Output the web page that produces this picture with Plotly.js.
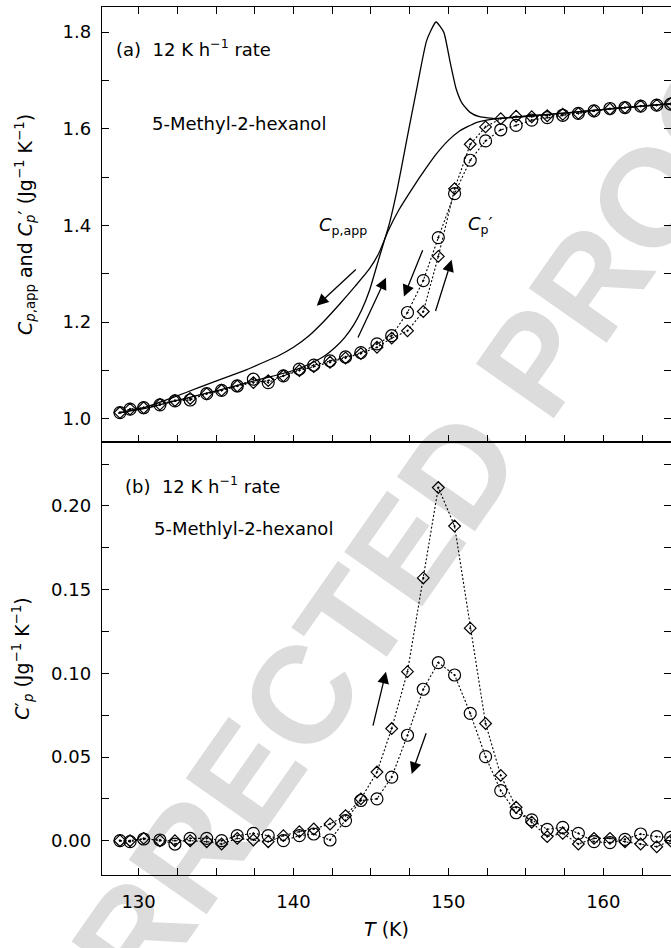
<!DOCTYPE html>
<html>
<head>
<meta charset="utf-8">
<script src="https://cdn.plot.ly/plotly-3.0.1.min.js"></script>
<style>html,body{margin:0;padding:0;background:#fff;}#chart{width:671px;height:948px;}</style>
</head>
<body>
<div id="chart"></div>
<script>
// Temperatures of the modulated (Cp') measurements, K
const T_pts = [128.8, 129.45, 130.33, 131.38, 132.35, 133.33, 134.4, 135.36, 136.37, 137.41, 138.37, 139.35, 140.38, 141.31, 142.36, 143.36, 144.35, 145.39, 146.34, 147.36, 148.38, 149.35, 150.4, 151.41, 152.4, 153.38, 154.37, 155.38, 156.38, 157.38, 158.39, 159.4, 160.43, 161.4, 162.41, 163.45, 164.35];

// (a) Cp' cooling (circles) and heating (diamonds), J g^-1 K^-1
const cpCool = [1.013, 1.020, 1.023, 1.029, 1.037, 1.039, 1.052, 1.059, 1.068, 1.082, 1.075, 1.089, 1.103, 1.111, 1.120, 1.128, 1.137, 1.155, 1.172, 1.220, 1.286, 1.375, 1.466, 1.535, 1.575, 1.598, 1.607, 1.618, 1.623, 1.628, 1.632, 1.637, 1.642, 1.644, 1.647, 1.649, 1.651];
const cpHeat = [1.013, 1.020, 1.023, 1.030, 1.038, 1.042, 1.052, 1.059, 1.068, 1.075, 1.079, 1.089, 1.100, 1.108, 1.117, 1.126, 1.135, 1.148, 1.167, 1.182, 1.222, 1.336, 1.476, 1.568, 1.604, 1.621, 1.626, 1.625, 1.627, 1.630, 1.632, 1.637, 1.641, 1.644, 1.647, 1.649, 1.652];

// (a) apparent heat capacity Cp,app, cooling scan
const T_appCool = [128.7, 130.5, 132.2, 134.0, 136.0, 137.0, 138.0, 139.0, 140.0, 141.0, 142.0, 143.0, 144.0, 144.9, 145.5, 146.1, 146.8, 147.7, 148.5, 149.2, 150.0, 150.7, 151.8, 153.1, 155.0, 158.0, 161.0, 164.4];
const appCool = [1.012, 1.025, 1.044, 1.066, 1.090, 1.102, 1.116, 1.130, 1.148, 1.172, 1.203, 1.238, 1.275, 1.310, 1.342, 1.388, 1.432, 1.478, 1.516, 1.547, 1.576, 1.595, 1.613, 1.621, 1.626, 1.634, 1.643, 1.652];

// (a) apparent heat capacity Cp,app, heating scan (with overshoot peak)
const T_appHeat = [128.7, 130.5, 132.2, 134.0, 136.0, 138.0, 140.0, 141.0, 142.0, 142.7, 143.3, 143.9, 144.4, 144.9, 145.5, 146.2, 146.7, 147.3, 148.0, 148.6, 149.2, 149.7, 150.1, 150.5, 150.9, 151.4, 152.0, 153.1, 155.0, 158.0, 161.0, 164.4];
const appHeat = [1.012, 1.022, 1.036, 1.050, 1.066, 1.083, 1.100, 1.113, 1.130, 1.148, 1.168, 1.195, 1.225, 1.265, 1.330, 1.405, 1.475, 1.575, 1.690, 1.783, 1.821, 1.800, 1.740, 1.683, 1.652, 1.634, 1.625, 1.621, 1.626, 1.634, 1.643, 1.652];

// (b) Cp'' cooling (circles) and heating (diamonds)
const cppCool = [0.000, -0.0006, 0.001, 0.0004, -0.002, 0.0014, 0.0014, 0.000, 0.003, 0.0044, 0.003, 0.000, 0.003, 0.004, 0.0004, 0.012, 0.024, 0.025, 0.038, 0.063, 0.0905, 0.1064, 0.099, 0.0761, 0.0502, 0.0299, 0.0167, 0.0124, 0.0068, 0.008, 0.0044, -0.0006, -0.0012, 0.0008, 0.004, 0.0024, 0.002];
const cppHeat = [0.000, 0.000, 0.0014, 0.000, 0.000, 0.000, -0.0006, -0.002, 0.0014, 0.0004, -0.0006, 0.003, 0.0054, 0.007, 0.010, 0.015, 0.025, 0.041, 0.067, 0.101, 0.157, 0.211, 0.188, 0.127, 0.070, 0.039, 0.020, 0.011, 0.0024, 0.0044, -0.002, 0.0014, 0.0014, -0.0006, -0.002, -0.0036, 0.000];

// Arrows: [tailT, tailV, headT, headV]
const arrowsA = [[144.12, 1.312, 141.50, 1.234], [144.12, 1.165, 145.97, 1.292], [148.38, 1.352, 147.13, 1.253], [149.14, 1.220, 150.21, 1.329]];
const arrowsB = [[145.11, 0.0678, 145.97, 0.1010], [148.6, 0.0651, 147.63, 0.0399]];

const FONT = 'DejaVu Sans, Liberation Sans, Arial, sans-serif';
const dotLine = {color: '#000', width: 1.1, dash: '2px,2px'};
const circ = {symbol: 'circle-open-dot', size: 12, color: '#000', line: {width: 1.2, color: '#000'}};
const diam = {symbol: 'diamond-open-dot', size: 9, color: '#000', line: {width: 1.2, color: '#000'}};
const solid = {color: '#000', width: 1.3, shape: 'spline', smoothing: 0.5};

const traces = [
  {x: T_appCool, y: appCool, xaxis: 'x2', yaxis: 'y2', mode: 'lines', line: solid, name: 'Cp,app cooling'},
  {x: T_appHeat, y: appHeat, xaxis: 'x2', yaxis: 'y2', mode: 'lines', line: solid, name: 'Cp,app heating'},
  {x: T_pts, y: cpCool, xaxis: 'x2', yaxis: 'y2', mode: 'lines+markers', line: dotLine, marker: circ, name: "Cp' cooling"},
  {x: T_pts, y: cpHeat, xaxis: 'x2', yaxis: 'y2', mode: 'lines+markers', line: dotLine, marker: diam, name: "Cp' heating"},
  {x: T_pts, y: cppCool, xaxis: 'x', yaxis: 'y', mode: 'lines+markers', line: dotLine, marker: circ, name: "Cp'' cooling"},
  {x: T_pts, y: cppHeat, xaxis: 'x', yaxis: 'y', mode: 'lines+markers', line: dotLine, marker: diam, name: "Cp'' heating"}
];

function arrowAnn(a, xr, yr) {
  return {xref: xr, yref: yr, axref: xr, ayref: yr, x: a[2], y: a[3], ax: a[0], ay: a[1], text: '', showarrow: true, arrowhead: 2, arrowsize: 1.8, arrowwidth: 1.3, arrowcolor: '#000', standoff: 0, startstandoff: 0};
}

const annotations = [];
arrowsA.forEach(a => annotations.push(arrowAnn(a, 'x2', 'y2')));
arrowsB.forEach(a => annotations.push(arrowAnn(a, 'x', 'y')));
const txt = (x, y, xr, yr, t) => ({xref: xr, yref: yr, x: x, y: y, xanchor: 'left', yanchor: 'middle', text: t, showarrow: false, font: {family: FONT, size: 18, color: '#000'}});
annotations.push(txt(128.41, 1.767, 'x2', 'y2', '(a)  12 K h<sup>−1</sup> rate'));
annotations.push(txt(130.74, 1.610, 'x2', 'y2', '5-Methyl-2-hexanol'));
annotations.push(txt(141.55, 1.398, 'x2', 'y2', '<i>C</i><sub>p,app</sub>'));
annotations.push(txt(151.15, 1.400, 'x2', 'y2', '<i>C</i><sub>p</sub>′'));
annotations.push(txt(129.0, 0.2125, 'x', 'y', '(b)  12 K h<sup>−1</sup> rate'));
annotations.push(txt(130.87, 0.1867, 'x', 'y', '5-Methlyl-2-hexanol'));

// light grey diagonal proof watermark, drawn beneath the data
const shapes = [{
  type: 'line', xref: 'paper', yref: 'paper', layer: 'below',
  x0: 0.2832, y0: 0.1706, x1: 0.4849, y1: 0.3593,
  line: {width: 0, color: 'rgba(0,0,0,0)'},
  label: {text: 'UNCORRECTED PROOF', textposition: 'middle', yanchor: 'middle', textangle: -55,
          font: {family: 'Liberation Sans, Arial, sans-serif', size: 138, weight: 'bold', color: '#dcdcdc'}}
}];

const axBase = {ticks: 'inside', ticklen: 7, tickwidth: 1, tickcolor: '#000', showline: true, linecolor: '#000', linewidth: 1.2, showgrid: false, zeroline: false, tickfont: {family: FONT, size: 18, color: '#000'}};

const layout = {
  width: 671, height: 948,
  margin: {l: 102, r: 0, t: 7, b: 73, pad: 0},
  paper_bgcolor: '#fff', plot_bgcolor: 'rgba(0,0,0,0)',
  showlegend: false,
  font: {family: FONT, color: '#000'},
  xaxis: Object.assign({}, axBase, {domain: [0, 1], range: [127.64, 164.37], anchor: 'y', tick0: 130, dtick: 10, minor: {dtick: 2.5, ticks: 'inside', ticklen: 7, tickcolor: '#000'}, mirror: true, ticklabelstandoff: 10, title: {text: '<i>T</i> (K)', font: {family: FONT, size: 19, color: '#000'}, standoff: 12}}),
  xaxis2: Object.assign({}, axBase, {domain: [0, 1], range: [127.64, 164.37], anchor: 'y2', matches: 'x', tick0: 130, dtick: 10, minor: {dtick: 2.5, ticks: 'inside', ticklen: 7, tickcolor: '#000'}, mirror: 'ticks', showticklabels: false}),
  yaxis: Object.assign({}, axBase, {domain: [0, 0.4988], range: [-0.0205, 0.2382], anchor: 'x', tick0: 0, dtick: 0.05, tickformat: '.2f', minor: {dtick: 0.025, ticks: 'inside', ticklen: 7, tickcolor: '#000'}, mirror: 'ticks', ticklabelstandoff: 6, title: {text: '<i>C</i>′<sub><i>p</i></sub> (Jg<sup>−1</sup> K<sup>−1</sup>)', font: {family: FONT, size: 19, color: '#000'}, standoff: 16}}),
  yaxis2: Object.assign({}, axBase, {domain: [0.4988, 1], range: [0.952, 1.852], anchor: 'x2', tick0: 1.0, dtick: 0.2, tickformat: '.1f', minor: {dtick: 0.1, ticks: 'inside', ticklen: 7, tickcolor: '#000'}, mirror: 'ticks', ticklabelstandoff: 6, title: {text: '<i>C</i><sub><i>p</i>,app</sub> and <i>C</i><sub><i>p</i></sub>′ (Jg<sup>−1</sup> K<sup>−1</sup>)', font: {family: FONT, size: 19, color: '#000'}, standoff: 25}}),
  shapes: shapes,
  annotations: annotations
};

Plotly.newPlot('chart', traces, layout, {displayModeBar: false, staticPlot: true});
</script>
</body>
</html>
